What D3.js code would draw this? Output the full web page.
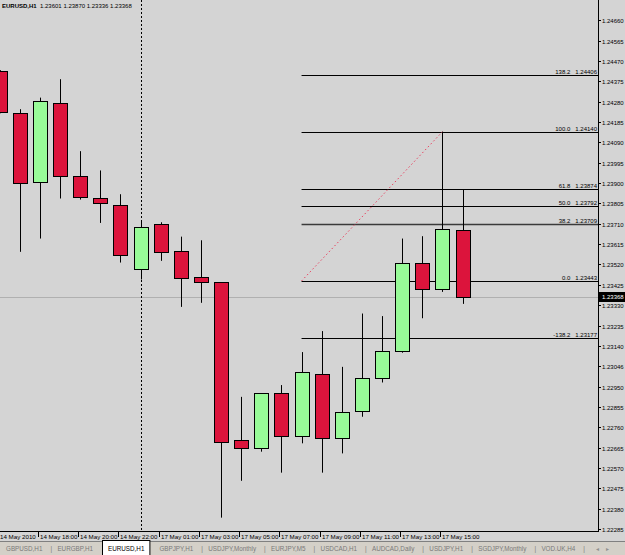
<!DOCTYPE html>
<html>
<head>
<meta charset="utf-8">
<script src="https://cdn.jsdelivr.net/npm/d3@7"></script>
<style>
  html, body { margin: 0; padding: 0; background: #d4d4d4; }
  svg { display: block; }
  text { font-family: "Liberation Sans", Arial, sans-serif; }
</style>
</head>
<body>
<svg id="chart" width="625" height="555"></svg>
<script>
// ---- data ----
const symbolTitle = "EURUSD,H1";
const headerValues = ["1.23601", "1.23870", "1.23336", "1.23368"];

const opens  = [1.24422, 1.24229, 1.23903, 1.24276, 1.23935, 1.23829, 1.23800, 1.23497, 1.23711, 1.23581, 1.23461, 1.23437,
                1.22699, 1.22660, 1.22919, 1.22716, 1.23008, 1.22708, 1.22832, 1.22991, 1.23112, 1.23525, 1.23403, 1.23679];
const highs  = [1.24427, 1.24245, 1.24299, 1.24385, 1.24049, 1.23959, 1.23848, 1.23723, 1.23717, 1.23650, 1.23633, 1.23437,
                1.22902, 1.22919, 1.22957, 1.23111, 1.23209, 1.23042, 1.23291, 1.23279, 1.23641, 1.23652, 1.24140, 1.23870];
const lows   = [1.24226, 1.23579, 1.23641, 1.23828, 1.23823, 1.23714, 1.23529, 1.23450, 1.23537, 1.23322, 1.23341, 1.22338,
                1.22510, 1.22646, 1.22548, 1.22685, 1.22548, 1.22638, 1.22809, 1.22969, 1.23108, 1.23269, 1.23392, 1.23336];
const closes = [1.24231, 1.23903, 1.24283, 1.23933, 1.23835, 1.23805, 1.23567, 1.23693, 1.23581, 1.23457, 1.23436, 1.22691,
                1.22660, 1.22919, 1.22716, 1.23016, 1.22708, 1.22829, 1.22988, 1.23117, 1.23525, 1.23403, 1.23685, 1.23368];

const priceTicks = [1.24660, 1.24565, 1.24470, 1.24375, 1.24280, 1.24185, 1.24090, 1.23995, 1.23900, 1.23805, 1.23710,
                    1.23615, 1.23520, 1.23425, 1.23330, 1.23235, 1.23140, 1.23046, 1.22950, 1.22855, 1.22760, 1.22665,
                    1.22570, 1.22475, 1.22380, 1.22285];

const timeLabelIndex = [0, 2, 4, 6, 8, 10, 12, 14, 16, 18, 20, 22];
const timeLabels = ["14 May 2010", "14 May 18:00", "14 May 20:00", "14 May 22:00", "17 May 01:00", "17 May 03:00",
                    "17 May 05:00", "17 May 07:00", "17 May 09:00", "17 May 11:00", "17 May 13:00", "17 May 15:00"];

const separatorIndex = 7;
const currentPrice = 1.23368;

const fibLevels = ["138.2", "100.0", "61.8", "50.0", "38.2", "0.0", "-138.2"];
const fibPrices = [1.24406, 1.24140, 1.23874, 1.23792, 1.23709, 1.23443, 1.23177];
const fibStartIndex = 15;
const fibEndIndex = 22;

const tabNames = ["GBPUSD,H1", "EURGBP,H1", "EURUSD,H1", "GBPJPY,H1", "USDJPY,Monthly", "EURJPY,M5",
                  "USDCAD,H1", "AUDCAD,Daily", "USDJPY,H1", "SGDJPY,Monthly", "VOD.UK,H4"];
const activeTab = 2;

// ---- layout ----
const W = 625, H = 555;
const plotRight = 598, plotBottom = 531;
const svg = d3.select("#chart");

const x = d3.scaleLinear().domain([0, 23]).range([-0.4, 462.6]);
const y = d3.scaleLinear().domain([1.22285, 1.24660]).range([529, 20.3]);

const bg = "#d4d4d4";
svg.append("rect").attr("width", W).attr("height", H).attr("fill", bg);

// bid line
svg.append("line")
  .attr("x1", 0).attr("x2", plotRight)
  .attr("y1", Math.round(y(currentPrice)) + 0.5).attr("y2", Math.round(y(currentPrice)) + 0.5)
  .attr("stroke", "#b0b0b0").attr("stroke-width", 1);

// period separator
svg.append("line")
  .attr("x1", Math.round(x(separatorIndex)) + 0.5).attr("x2", Math.round(x(separatorIndex)) + 0.5)
  .attr("y1", 0).attr("y2", plotBottom)
  .attr("stroke", "#000").attr("stroke-width", 1).attr("stroke-dasharray", "2,2");

// fibonacci levels
const fibG = svg.append("g");
fibPrices.forEach((p, i) => {
  const yy = Math.round(y(p)) + 0.5;
  fibG.append("line")
    .attr("x1", x(fibStartIndex)).attr("x2", plotRight)
    .attr("y1", yy).attr("y2", yy)
    .attr("stroke", i === 4 ? "#3a3a3a" : "#000").attr("stroke-width", i === 4 ? 1.4 : 1);
  fibG.append("text")
    .attr("x", 597).attr("y", yy - 2)
    .attr("text-anchor", "end")
    .style("white-space", "pre")
    .attr("font-size", "6px").attr("fill", "#000")
    .text(fibLevels[i] + "   " + p.toFixed(5));
});

// fib trend line (dotted red)
svg.append("line")
  .attr("x1", x(fibStartIndex)).attr("y1", y(fibPrices[5]))
  .attr("x2", x(fibEndIndex)).attr("y2", y(fibPrices[1]))
  .attr("stroke", "#e8405e").attr("stroke-width", 1).attr("stroke-dasharray", "1.5,2.5");

// candles
const candles = opens.map((o, i) => ({ i, o, h: highs[i], l: lows[i], c: closes[i] }));
const cg = svg.append("g");
candles.forEach(d => {
  const cx = Math.round(x(d.i)) + 0.5;
  cg.append("line")
    .attr("x1", cx).attr("x2", cx)
    .attr("y1", y(d.h)).attr("y2", y(d.l))
    .attr("stroke", "#000").attr("stroke-width", 1);
  const top = Math.min(y(d.o), y(d.c)), bot = Math.max(y(d.o), y(d.c));
  cg.append("rect")
    .attr("x", cx - 7).attr("width", 14)
    .attr("y", Math.round(top) + 0.5).attr("height", Math.max(1, Math.round(bot - top)))
    .attr("fill", d.c >= d.o ? "#98fb98" : "#dc143c")
    .attr("stroke", "#000").attr("stroke-width", 1);
});

// right axis
svg.append("line")
  .attr("x1", plotRight + 0.5).attr("x2", plotRight + 0.5)
  .attr("y1", 0).attr("y2", plotBottom + 0.5)
  .attr("stroke", "#000");
const ya = svg.append("g");
priceTicks.forEach(p => {
  const yy = Math.round(y(p)) + 0.5;
  ya.append("line").attr("x1", plotRight).attr("x2", plotRight + 3)
    .attr("y1", yy).attr("y2", yy).attr("stroke", "#000");
  ya.append("text").attr("x", 602).attr("y", yy + 2.2)
    .attr("font-size", "6px").attr("fill", "#000")
    .text(p.toFixed(5));
});

// current price label
const cpy = Math.round(y(currentPrice));
svg.append("rect").attr("x", plotRight + 1).attr("y", cpy - 5).attr("width", W - plotRight - 1).attr("height", 10)
  .attr("fill", "#000");
svg.append("text").attr("x", 602).attr("y", cpy + 2.2)
  .attr("font-size", "6px").attr("fill", "#fff").text(currentPrice.toFixed(5));

// bottom axis
svg.append("line")
  .attr("x1", 0).attr("x2", plotRight + 1)
  .attr("y1", plotBottom + 0.5).attr("y2", plotBottom + 0.5)
  .attr("stroke", "#000");
const xa = svg.append("g");
timeLabelIndex.forEach((k, i) => {
  const tx = Math.round(x(k)) - 1.5;
  if (k > 0) {
    xa.append("line").attr("x1", tx).attr("x2", tx)
      .attr("y1", plotBottom).attr("y2", plotBottom + 6).attr("stroke", "#000");
  }
  xa.append("text").attr("x", k > 0 ? tx + 1.5 : 0).attr("y", plotBottom + 8)
    .attr("font-size", "6.2px").attr("fill", "#000").text(timeLabels[i]);
});

// header
const hdr = svg.append("text").attr("x", 2).attr("y", 8).attr("font-size", "6px").attr("fill", "#000");
hdr.append("tspan").attr("font-weight", "bold").text(symbolTitle);
hdr.append("tspan").text("  " + headerValues.join(" ")).style("white-space", "pre");

// tabs strip
const tabTop = 541;
svg.append("rect").attr("x", 0).attr("y", tabTop).attr("width", W).attr("height", H - tabTop).attr("fill", "#d4d0c8");
svg.append("line").attr("x1", 0).attr("x2", W).attr("y1", tabTop + 0.5).attr("y2", tabTop + 0.5).attr("stroke", "#808080");

const tabG = svg.append("g");
let tx = 6;
tabNames.forEach((name, i) => {
  const t = tabG.append("text").attr("x", tx).attr("y", tabTop + 9.5)
    .attr("font-size", "6.3px").attr("fill", i === activeTab ? "#000" : "#7a7a7a").text(name);
  const w = t.node().getComputedTextLength();
  if (i === activeTab) {
    tabG.insert("rect", "text").attr("x", tx - 5.5).attr("y", tabTop - 0.5).attr("width", w + 11).attr("height", H - tabTop + 1)
      .attr("fill", "#ffffff").attr("stroke", "#000");
  }
  const sepX = tx + w + 8;
  if (i !== activeTab && i + 1 !== activeTab) {
    tabG.append("text").attr("x", sepX).attr("y", tabTop + 9.5).attr("font-size", "6.3px").attr("fill", "#7a7a7a").text("|");
  }
  tx = sepX + 7;
});
tabG.append("text").attr("x", 596).attr("y", tabTop + 9.5).attr("font-size", "6px").attr("fill", "#909090")
  .style("font-family", "DejaVu Sans").text("◂");
tabG.append("text").attr("x", 606).attr("y", tabTop + 9.5).attr("font-size", "6px").attr("fill", "#909090")
  .style("font-family", "DejaVu Sans").text("▸");
</script>
</body>
</html>
